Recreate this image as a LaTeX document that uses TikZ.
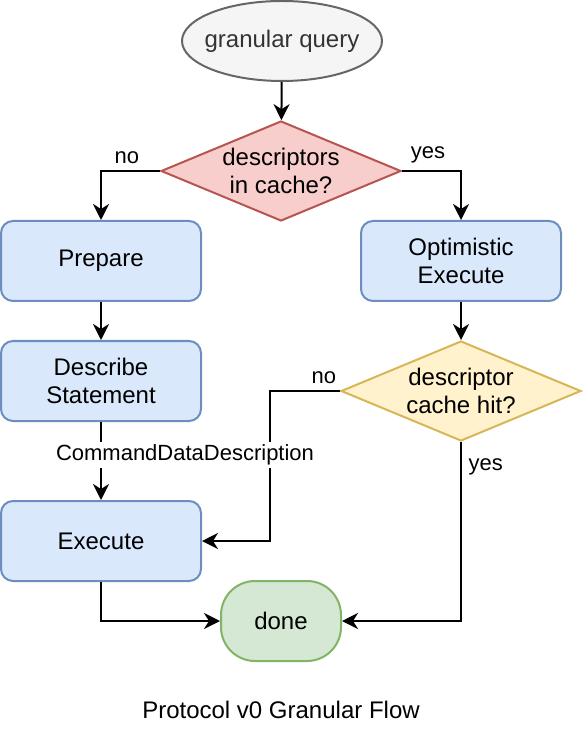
\documentclass[tikz,border=0pt]{standalone}
\usepackage{fontspec}
\setmainfont{Liberation Sans}
\usetikzlibrary{shapes.geometric,arrows.meta}
\definecolor{qfill}{HTML}{F5F5F5}
\definecolor{qline}{HTML}{666666}
\definecolor{qtext}{HTML}{333333}
\definecolor{redfill}{HTML}{F8CECC}
\definecolor{redline}{HTML}{B85450}
\definecolor{bluefill}{HTML}{DAE8FC}
\definecolor{blueline}{HTML}{6C8EBF}
\definecolor{yelfill}{HTML}{FFF2CC}
\definecolor{yelline}{HTML}{D6B656}
\definecolor{grnfill}{HTML}{D5E8D4}
\definecolor{grnline}{HTML}{82B366}
\newcommand{\bigtxt}{\fontsize{12}{14.4}\selectfont}
\newcommand{\smalltxt}{\fontsize{11}{13.2}\selectfont}
\tikzset{
  box/.style={draw=blueline, fill=bluefill, line width=1pt, rounded corners=6pt,
    minimum width=100pt, minimum height=40pt, align=center, font=\bigtxt},
  ask/.style={diamond, line width=1pt, minimum width=120pt, minimum height=50pt, inner sep=0pt},
  flow/.style={line width=1pt, -{Stealth[length=8pt,width=8pt,inset=2.5pt]}},
  lbl/.style={font=\smalltxt},
}

\begin{document}
\begin{tikzpicture}[x=0.5pt,y=-0.5pt]
        \useasboundingbox (0,0) rectangle (582,742);
        \node[ellipse, draw=qline, fill=qfill, line width=1pt, inner sep=0pt, minimum width=100pt, minimum height=40pt, label={[text=qtext, font=\bigtxt]center:granular query}] (query) at (282,41) {};
        \node[ask, draw=redline, fill=redfill, label={[align=center, font=\bigtxt]center:descriptors\\in cache?}] (cache) at (281,171) {};
        \node[box] (prepare) at (101,261) {Prepare};
        \node[box] (optimistic) at (461,261) {Optimistic\\Execute};
        \node[box] (describe) at (101,381) {Describe\\Statement};
        \node[ask, draw=yelline, fill=yelfill, label={[align=center, font=\bigtxt]center:descriptor\\cache hit?}] (hit) at (461,391) {};
        \node[box] (execute) at (101,541) {Execute};
        \node[draw=grnline, fill=grnfill, line width=1pt, rounded corners=17pt, minimum width=60pt, minimum height=40pt, font=\bigtxt] (done) at (281,621) {done};
        \node[font=\bigtxt] (title) at (281,710) {Protocol v0 Granular Flow};

        \draw[flow] (query) -- (cache);
        \draw[flow] (cache.west) -| node[lbl, above, pos=0.28] {no} (prepare.north);
        \draw[flow] (cache.east) -| node[lbl, above, pos=0.22] {yes} (optimistic.north);
        \draw[flow] (prepare) -- (describe);
        \draw[flow] (optimistic) -- (hit);
        \draw[flow] (hit.west) -- node[lbl, above, pos=0.23] {no} ++(-70,0) |- (execute.east);
        \draw[flow] (hit.south) |- node[lbl, right, pos=0.07] {yes} (done.east);
        \draw[flow] (execute.south) |- (done.west);
        \draw[flow] (describe) -- node[lbl, fill=white, inner sep=1.5pt, xshift=42pt, yshift=3pt] {CommandDataDescription} (execute);
    \end{tikzpicture}
\end{document}
